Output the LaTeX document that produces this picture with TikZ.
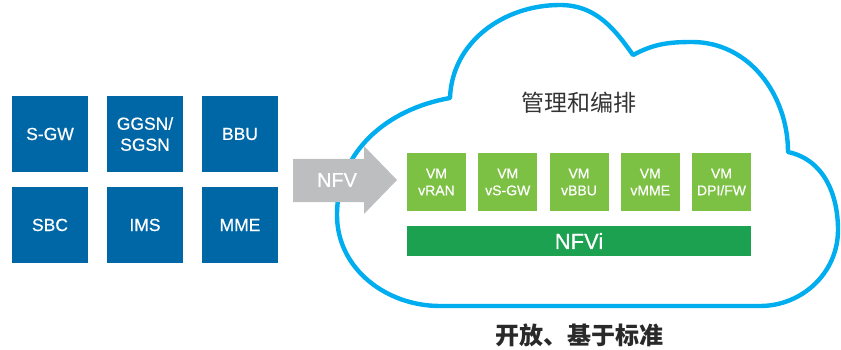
\documentclass[tikz,border=0pt]{standalone}
\usepackage{fontspec}
\setmainfont{Liberation Sans}[FakeBold=0.6]
\newfontfamily\cjk{Noto Sans CJK SC}
\usepackage{tikz}
\usetikzlibrary{arrows.meta}

\definecolor{neblue}{RGB}{0,103,166}
\definecolor{vmgreen}{RGB}{124,193,67}
\definecolor{nfvigreen}{RGB}{27,161,80}
\definecolor{arrowgray}{RGB}{189,190,192}
\definecolor{cloudcyan}{RGB}{0,174,239}
\definecolor{textgray}{RGB}{51,51,51}

\begin{document}
\begin{tikzpicture}[x=1pt, y=1pt, node distance={95pt},
    ne/.style = {fill=neblue, text=white, minimum width=76pt, minimum height=76pt, inner sep=0pt, align=center, font=\fontsize{17.5}{21}\selectfont},
    vm/.style = {fill=vmgreen, text=white, minimum width=59pt, minimum height=58pt, inner sep=0pt, align=center, font=\fontsize{14}{17}\selectfont}]
            \useasboundingbox (0,0) rectangle (841,-350);

            % legacy network elements
            \node[ne] (sgw) at (50,-134) {S-GW};
            \node[ne] (ggsn) [right of=sgw] {GGSN/\\SGSN};
            \node[ne] (bbu) [right of=ggsn] {BBU};
            \node[ne] (sbc) [below of=sgw, node distance=91pt] {SBC};
            \node[ne] (ims) [right of=sbc] {IMS};
            \node[ne] (mme) [right of=ims] {MME};

            % cloud
            \draw[cloudcyan, line width=4.4pt, line join=round]
                (450,-98) to[out=88,in=180] (560,-5)
                to[out=0,in=125] (633,-55)
                to[out=28,in=180] (692,-42)
                to[out=0,in=90] (788,-152)
                to[out=-12,in=90] (838,-230)
                to[out=-90,in=0] (760,-306)
                -- (440,-306)
                to[out=180,in=-90] (337,-215)
                to[out=90,in=190] cycle;

            % NFV arrow
            \fill[arrowgray] (293,-159) -- (364,-159) -- (364,-146) -- (397,-180)
                -- (364,-214) -- (364,-202) -- (293,-202) -- cycle;
            \node[text=white, font=\fontsize{20}{24}\selectfont] (nfv) at (337,-180) {NFV};

            \node[text=textgray, font=\cjk\fontsize{23}{27}\selectfont] (mano) at (579,-103) {管理和编排};

            % virtual machines
            \node[vm, node distance=71.25pt] (vmran) at (436.5,-182) {VM\\vRAN};
            \node[vm, node distance=71.25pt] (vmsgw) [right of=vmran] {VM\\vS-GW};
            \node[vm, node distance=71.25pt] (vmbbu) [right of=vmsgw] {VM\\vBBU};
            \node[vm, node distance=71.25pt] (vmmme) [right of=vmbbu] {VM\\vMME};
            \node[vm, node distance=71.25pt] (vmdpi) [right of=vmmme] {VM\\DPI/FW};
            \node[fill=nfvigreen, text=white, minimum width=344pt, minimum height=30pt, inner sep=0pt, font=\fontsize{22}{25}\selectfont] (nfvi) [below of=vmbbu, node distance=59pt] {NFVi};

            \node[text=textgray!80!black, font=\cjk\bfseries\fontsize{24}{28}\selectfont] (std) at (579,-335) {开放、基于标准};
        \end{tikzpicture}
\end{document}
